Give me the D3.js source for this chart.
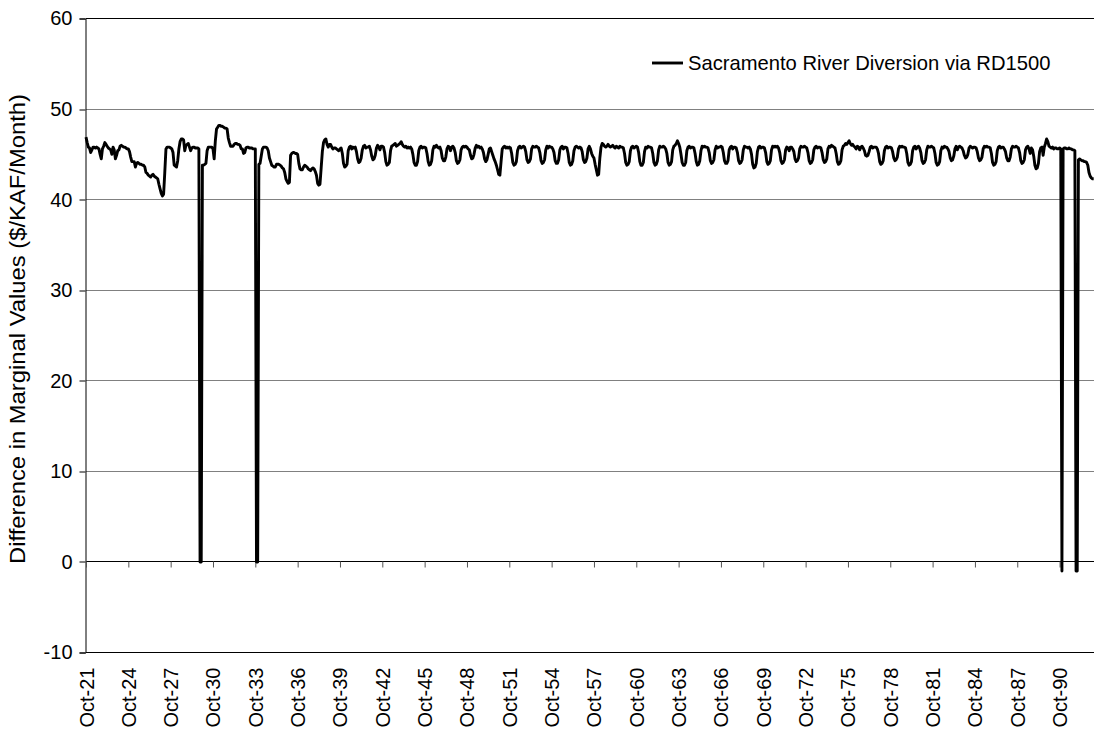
<!DOCTYPE html>
<html>
<head>
<meta charset="utf-8">
<script src="https://cdn.jsdelivr.net/npm/d3@7"></script>
<style>
  body { margin: 0; background: #fff; }
  svg { display: block; }
  text { font-family: Arial, "Liberation Sans", Helvetica, sans-serif; fill: #000; }
</style>
</head>
<body>
<svg id="chart" width="1094" height="734"></svg>
<script>
// Monthly difference in marginal values ($/KAF/Month), water years Oct-1921 onward
const seriesName = "Sacramento River Diversion via RD1500";
const yAxisTitle = "Difference in Marginal Values ($/KAF/Month)";
const yTicks = [-10, 0, 10, 20, 30, 40, 50, 60];
const xTickLabels = ["Oct-21","Oct-24","Oct-27","Oct-30","Oct-33","Oct-36","Oct-39","Oct-42",
  "Oct-45","Oct-48","Oct-51","Oct-54","Oct-57","Oct-60","Oct-63","Oct-66","Oct-69","Oct-72",
  "Oct-75","Oct-78","Oct-81","Oct-84","Oct-87","Oct-90"];
const monthsPerTick = 36;
const totalMonths = 864; // Oct-21 .. Sep-93

// Oct-21 .. Sep-26
const wy1921_1925 = [
  46.9,46.3,45.8,45.7,45.2,45.5,45.8,45.8,45.7,45.8,45.7,45.6,
  45.0,44.5,45.6,45.9,46.3,46.1,45.9,45.7,45.6,45.5,45.0,45.8,
  45.5,44.5,44.9,45.4,45.5,45.9,46.0,45.9,45.8,45.8,45.7,45.6,
  45.6,45.3,44.7,44.2,44.2,44.2,43.6,44.0,44.1,44.0,43.9,43.9,
  43.8,43.8,43.6,43.0,42.9,42.7,42.6,42.5,42.7,42.8,42.6,42.5
];
// Oct-26 .. Sep-31
const wy1926_1930 = [
  42.4,42.3,41.7,41.2,40.7,40.4,40.6,43.0,45.6,45.8,45.8,45.8,
  45.7,45.6,45.2,43.8,43.7,43.6,44.3,45.6,46.4,46.7,46.7,46.6,
  45.4,46.0,46.1,46.2,45.8,45.4,45.7,45.8,45.8,45.7,45.7,45.7,
  45.6,0.0,0.0,43.8,43.8,43.9,44.0,45.4,45.8,45.8,45.8,45.8,
  45.6,44.5,46.5,47.8,48.0,48.2,48.2,48.1,48.1,48.0,47.9,47.9
];
// Oct-31 .. Sep-36
const wy1931_1935 = [
  47.8,46.8,46.3,45.9,45.9,45.9,46.1,46.2,46.2,46.1,46.1,46.0,
  45.6,45.6,45.1,45.2,45.7,45.8,45.8,45.7,45.7,45.7,45.6,45.6,
  45.6,0.0,0.0,43.9,44.0,44.8,45.6,45.8,45.8,45.8,45.7,45.4,
  44.6,44.2,43.8,43.7,43.6,43.6,43.9,43.9,43.9,43.8,43.7,43.5,
  43.4,43.0,42.3,42.0,41.8,41.9,44.9,45.1,45.2,45.2,45.1,45.1
];
// Oct-36 .. Sep-41
const wy1936_1940 = [
  45.0,44.0,43.4,43.3,43.3,43.6,43.8,43.7,43.6,43.4,43.3,43.2,
  43.4,43.5,43.4,43.1,42.7,41.8,41.6,41.7,43.5,45.3,46.3,46.6,
  46.7,46.1,45.8,46.1,46.1,45.8,45.6,45.7,45.7,45.6,45.5,45.4,
  45.6,45.7,45.1,44.0,43.6,43.7,43.9,45.4,45.8,45.9,45.6,45.8,
  45.7,45.8,45.3,44.5,44.1,44.2,44.6,45.5,45.9,46.0,45.7,45.8
];
// Oct-41 .. Sep-46
const wy1941_1945 = [
  45.8,45.9,45.5,44.8,44.4,44.5,44.9,45.7,46.0,45.8,45.5,45.9,
  45.9,45.8,45.2,44.2,43.8,43.9,44.1,45.4,45.9,46.0,46.1,46.2,
  45.9,46.0,46.1,46.2,46.4,46.1,45.9,45.8,45.9,45.7,45.8,45.7,
  45.8,45.6,45.0,44.1,43.8,43.8,44.2,45.4,45.8,45.9,45.7,45.8,
  45.8,45.7,45.1,44.2,43.8,43.9,44.3,45.5,45.9,45.8,46.0,45.8
];
// Oct-46 .. Sep-51
const wy1946_1950 = [
  45.7,45.8,45.4,44.6,44.3,44.3,44.7,45.6,45.9,45.8,45.4,45.8,
  45.9,45.7,45.2,44.3,44.0,44.1,44.4,45.5,45.8,45.9,45.8,45.9,
  45.8,45.6,45.5,44.9,44.5,44.6,45.0,45.7,46.0,45.8,45.9,45.7,
  45.8,45.6,45.2,44.5,44.2,44.4,45.0,45.6,45.7,45.3,44.9,44.5,
  44.2,43.8,43.3,42.8,42.7,44.2,45.6,45.8,45.9,45.7,45.8,45.7
];
// Oct-51 .. Sep-56
const wy1951_1955 = [
  45.8,45.7,45.1,44.1,43.8,43.9,44.2,45.4,45.8,45.9,45.7,45.8,
  45.9,45.8,45.3,44.4,44.1,44.2,44.5,45.6,45.9,45.8,45.8,45.9,
  45.8,45.7,45.2,44.3,44.0,44.1,44.4,45.5,45.9,45.7,45.9,45.8,
  45.8,45.6,45.2,44.3,44.0,44.0,44.4,45.5,45.8,45.9,45.6,45.8,
  45.8,45.7,45.1,44.1,43.8,43.9,44.3,45.4,45.8,45.9,45.8,45.7
];
// Oct-56 .. Sep-61
const wy1956_1960 = [
  45.8,45.7,45.3,44.4,44.1,44.2,44.6,45.6,45.9,45.6,45.1,44.8,
  44.6,43.9,43.3,42.7,42.8,44.6,45.8,46.2,46.1,45.9,45.8,45.9,
  46.1,45.9,45.8,45.9,46.0,45.8,45.7,45.9,45.8,45.7,45.9,45.8,
  45.8,45.7,45.1,44.1,43.8,43.9,44.2,45.4,45.8,45.9,45.7,45.8,
  45.9,45.8,45.2,44.2,43.8,43.8,44.1,45.3,45.8,45.7,45.9,45.8
];
// Oct-61 .. Sep-66
const wy1961_1965 = [
  45.8,45.7,45.1,44.1,43.8,43.9,44.3,45.5,45.9,45.8,45.8,45.9,
  45.8,45.6,45.1,44.1,43.8,43.9,44.2,45.5,45.9,46.0,46.2,46.5,
  46.2,45.8,45.0,44.1,43.8,43.8,44.1,45.4,45.8,45.9,45.7,45.8,
  45.8,45.7,45.1,44.2,43.8,43.9,44.3,45.4,45.9,45.8,45.9,45.8,
  45.8,45.7,45.2,44.3,44.0,44.1,44.4,45.5,45.9,45.7,45.8,45.8
];
// Oct-66 .. Sep-71
const wy1966_1970 = [
  45.9,45.8,45.2,44.3,44.0,44.0,44.3,45.5,45.8,45.9,45.6,45.8,
  45.8,45.7,45.2,44.3,44.0,44.1,44.4,45.5,45.9,45.8,45.8,45.7,
  45.8,45.6,45.0,43.9,43.5,43.6,44.0,45.3,45.8,45.9,45.7,45.8,
  45.8,45.7,45.2,44.2,43.9,44.0,44.3,45.5,45.9,45.8,45.9,45.8,
  45.9,45.7,45.2,44.3,44.0,44.1,44.4,45.5,45.8,45.7,45.4,45.8
];
// Oct-71 .. Sep-76
const wy1971_1975 = [
  45.8,45.6,45.3,44.5,44.2,44.3,44.6,45.6,45.9,45.8,45.8,45.9,
  45.8,45.7,45.2,44.3,44.0,44.1,44.4,45.5,45.8,45.9,45.7,45.8,
  45.8,45.7,45.2,44.4,44.1,44.2,44.5,45.6,45.9,45.8,46.0,45.9,
  45.8,45.7,45.1,44.2,43.9,44.0,44.3,45.5,45.9,46.0,46.2,46.1,
  46.3,46.5,46.2,46.0,46.1,45.9,45.8,45.6,45.9,45.8,45.5,45.8
];
// Oct-76 .. Sep-81
const wy1976_1980 = [
  45.9,45.7,45.4,44.9,44.8,44.9,45.3,45.8,45.9,45.7,45.8,45.8,
  45.8,45.6,45.1,44.2,43.9,44.0,44.3,45.4,45.8,45.9,45.7,45.8,
  45.8,45.7,45.3,44.6,44.3,44.4,44.7,45.6,45.9,45.8,45.9,45.8,
  45.8,45.7,45.1,44.1,43.8,43.9,44.2,45.4,45.8,45.9,45.6,45.8,
  45.9,45.7,45.2,44.3,44.0,44.1,44.4,45.5,45.9,45.8,45.8,45.9
];
// Oct-81 .. Sep-86
const wy1981_1985 = [
  45.8,45.7,45.1,44.1,43.8,43.9,44.2,45.4,45.8,45.7,45.9,45.8,
  45.8,45.6,45.3,44.6,44.3,44.4,44.8,45.6,45.9,45.5,45.8,45.9,
  45.8,45.7,45.4,44.9,44.6,44.7,45.0,45.7,45.9,45.8,45.7,45.8,
  45.8,45.7,45.3,44.6,44.3,44.4,44.7,45.6,45.9,45.8,45.9,45.8,
  45.8,45.7,45.1,44.1,43.8,43.9,44.2,45.4,45.8,45.9,45.7,45.8
];
// Oct-86 .. Sep-91
const wy1986_1990 = [
  45.8,45.6,45.3,44.6,44.3,44.3,44.7,45.6,45.9,45.8,45.8,45.9,
  45.8,45.7,45.2,44.3,44.0,44.1,44.4,45.5,45.8,45.9,45.6,45.1,
  45.7,45.5,44.8,43.8,43.4,43.5,44.0,45.3,45.7,45.8,44.9,45.8,
  46.2,46.7,46.4,45.9,45.8,45.7,45.8,45.6,45.7,45.7,45.6,45.6,
  45.7,45.6,-1.0,45.6,45.7,45.7,45.6,45.6,45.7,45.6,45.6,45.5
];
// Oct-91 .. Feb-93
const wy1991_1992 = [
  45.5,45.4,-1.0,-1.0,44.4,44.5,44.4,44.3,44.3,44.2,44.2,44.1,
  43.8,43.0,42.6,42.4,42.3,42.3
];

const values = [].concat(wy1921_1925, wy1926_1930, wy1931_1935, wy1936_1940,
  wy1941_1945, wy1946_1950, wy1951_1955, wy1956_1960, wy1961_1965,
  wy1966_1970, wy1971_1975, wy1976_1980, wy1981_1985, wy1986_1990, wy1991_1992);
const series = values.map((v, i) => ({ i, v }));

const W = 1094, H = 734;
const plot = { left: 86, top: 18.5, bottom: 652.5 };
const tickSpacing = 42.33; // px between Oct labels (36 months)
const tickFont = 20;
const titleFont = 21.5;

const svg = d3.select("#chart");

const x = d3.scaleLinear()
  .domain([0, totalMonths - 1])
  .range([plot.left, plot.left + (totalMonths - 1) * tickSpacing / monthsPerTick]);
const y = d3.scaleLinear().domain([-10, 60]).range([plot.bottom, plot.top]);
const crisp = v => Math.round(v - 0.5) + 0.5;

// horizontal gridlines
svg.append("g")
  .selectAll("line")
  .data(yTicks.filter(t => t !== 0 && t !== -10 && t !== 60))
  .join("line")
  .attr("x1", plot.left).attr("x2", x.range()[1])
  .attr("y1", d => crisp(y(d))).attr("y2", d => crisp(y(d)))
  .attr("stroke", "#808080").attr("stroke-width", 1);

// plot frame top / bottom
svg.append("line")
  .attr("x1", plot.left).attr("x2", x.range()[1])
  .attr("y1", crisp(y(60))).attr("y2", crisp(y(60)))
  .attr("stroke", "#000").attr("stroke-width", 1);
svg.append("line")
  .attr("x1", plot.left).attr("x2", x.range()[1])
  .attr("y1", crisp(y(-10))).attr("y2", crisp(y(-10)))
  .attr("stroke", "#000").attr("stroke-width", 1);

// y axis
const yAxis = svg.append("g")
  .attr("transform", `translate(${plot.left - 0.5},0)`)
  .call(d3.axisLeft(y).tickValues(yTicks).tickSize(6).tickPadding(7).tickFormat(d => String(d)));
yAxis.select(".domain").attr("stroke", "#000");
yAxis.selectAll(".tick line").attr("stroke", "#000")
  .attr("transform", d => `translate(0,${crisp(y(d)) - y(d)})`);
yAxis.selectAll("text").attr("font-size", tickFont).attr("font-family", "Arial, 'Liberation Sans', sans-serif");

// category axis along zero, tick marks only
const tickIdx = xTickLabels.map((_, k) => k * monthsPerTick);
const xAxis0 = svg.append("g")
  .attr("transform", `translate(0,${crisp(y(0))})`)
  .call(d3.axisBottom(x).tickValues(tickIdx).tickSize(6).tickFormat(""));
xAxis0.select(".domain").attr("stroke", "#000").attr("d", `M${plot.left},0H${x.range()[1]}`);
xAxis0.selectAll(".tick line").attr("stroke", "#555");

// rotated month labels beneath the plot
const xAxisLabels = svg.append("g")
  .attr("transform", `translate(0,${plot.bottom})`)
  .call(d3.axisBottom(x).tickValues(tickIdx).tickSize(0).tickFormat((d, k) => xTickLabels[k]));
xAxisLabels.select(".domain").remove();
xAxisLabels.selectAll("text")
  .attr("font-size", tickFont)
  .attr("font-family", "Arial, 'Liberation Sans', sans-serif")
  .attr("text-anchor", "end")
  .attr("transform", "rotate(-90)")
  .attr("x", -15)
  .attr("y", 0)
  .attr("dy", "0.35em");

// series line
svg.append("path")
  .datum(series)
  .attr("fill", "none")
  .attr("stroke", "#000")
  .attr("stroke-width", 2.9)
  .attr("stroke-linejoin", "round")
  .attr("d", d3.line().x(d => x(d.i)).y(d => y(d.v)));

// y axis title
svg.append("text")
  .attr("transform", `translate(25,329) rotate(-90)`)
  .attr("text-anchor", "middle")
  .attr("font-size", titleFont)
  .attr("textLength", 470)
  .attr("lengthAdjust", "spacingAndGlyphs")
  .text(yAxisTitle);

// legend
const legend = svg.append("g").attr("transform", "translate(652,63)");
legend.append("line").attr("x1", 0).attr("x2", 31).attr("y1", 0).attr("y2", 0)
  .attr("stroke", "#000").attr("stroke-width", 2.9);
legend.append("text").attr("x", 36).attr("y", 7).attr("font-size", 20.2).text(seriesName);
</script>
</body>
</html>
